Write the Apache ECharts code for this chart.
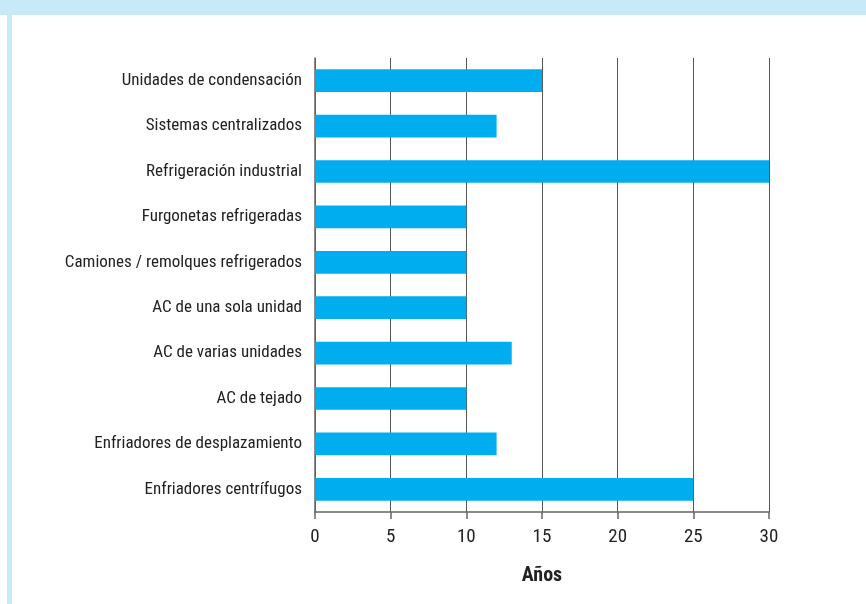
<!DOCTYPE html>
<html><head><meta charset="utf-8">
<script src="https://cdn.jsdelivr.net/npm/echarts@6/dist/echarts.min.js"></script>
<style>html,body{margin:0;padding:0;background:#fff}#c{width:866px;height:604px}</style>
</head><body><div id="c"></div>
<script>
const categories = ["Unidades de condensación","Sistemas centralizados","Refrigeración industrial","Furgonetas refrigeradas","Camiones / remolques refrigerados","AC de una sola unidad","AC de varias unidades","AC de tejado","Enfriadores de desplazamiento","Enfriadores centrífugos"];
const values = [15,12,30,10,10,10,13,10,12,25];
const xTicks = [0,5,10,15,20,25,30];
const axisName = "Años";
const FONT = '"Liberation Sans Narrow","Roboto Condensed","Roboto",sans-serif';
const chart = echarts.init(document.getElementById('c'));
chart.setOption({
  animation:false,
  backgroundColor:'#fff',
  graphic:[
    {type:'rect',shape:{x:0,y:0,width:866,height:15},style:{fill:'#C7E9F8'},z:-1},
    {type:'rect',shape:{x:7,y:15,width:5,height:589},style:{fill:'#C7E9F8'},z:-1}
  ],
  grid:{left:315,right:97,top:58,bottom:92,containLabel:false},
  xAxis:{type:'value',min:xTicks[0],max:xTicks[xTicks.length-1],interval:5,
    name:axisName,nameLocation:'middle',nameGap:54,
    nameTextStyle:{fontFamily:FONT,fontSize:20,fontWeight:'bold',color:'#222'},
    axisLine:{show:true,lineStyle:{color:'#666',width:1.5}},
    axisTick:{show:true,length:7,lineStyle:{color:'#666',width:1.5}},
    axisLabel:{fontFamily:FONT,fontSize:19,color:'#222',margin:16},
    splitLine:{show:true,lineStyle:{color:'#555',width:1}}},
  yAxis:{type:'category',inverse:true,data:categories,
    axisLine:{show:true,lineStyle:{color:'#666',width:1.5}},
    axisTick:{show:false},
    axisLabel:{fontFamily:FONT,fontSize:17,color:'#222',margin:13,interval:0}},
  series:[{type:'bar',data:values,barWidth:'50%',itemStyle:{color:'#00AEEF'}}]
});
</script></body></html>
